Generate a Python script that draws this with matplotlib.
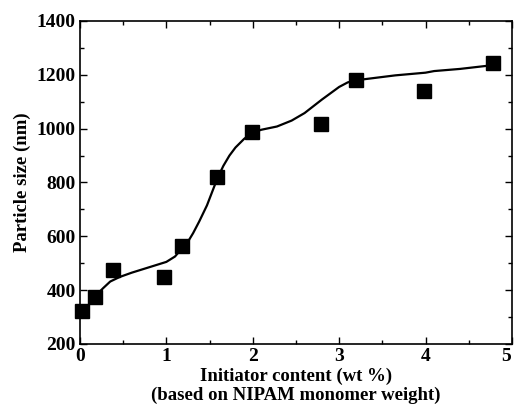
import matplotlib
matplotlib.use("Agg")
import matplotlib.pyplot as plt
import matplotlib.transforms as mtransforms
from matplotlib.ticker import MultipleLocator

# measured points (initiator wt %, particle size nm)
initiator = [0.02, 0.17, 0.38, 0.97, 1.18, 1.59, 1.99, 2.79, 3.19, 3.98, 4.78]
size_nm = [322, 375, 476, 449, 565, 822, 987, 1017, 1181, 1140, 1243]

# smooth guide curve
curve_x = [0.17, 0.22, 0.27, 0.35, 0.46, 0.6, 0.69, 0.85, 1.0, 1.1, 1.18, 1.25, 1.31,
           1.38, 1.47, 1.53, 1.59, 1.66, 1.73, 1.8, 1.9, 1.99, 2.1, 2.28, 2.45, 2.6,
           2.8, 3.0, 3.1, 3.2, 3.4, 3.65, 4.0, 4.1, 4.4, 4.78]
curve_y = [375, 392, 408, 432, 449, 465, 474, 490, 505, 525, 555, 580, 612,
           655, 715, 765, 815, 862, 900, 930, 962, 985, 996, 1008, 1030, 1058,
           1108, 1155, 1172, 1180, 1188, 1198, 1208, 1214, 1222, 1236]

plt.rcParams['font.family'] = ['Liberation Serif', 'DejaVu Serif']
plt.rcParams['font.weight'] = 'bold'

fig = plt.figure(figsize=(5.15, 4.2), dpi=100)
ax = fig.add_axes([0.1553, 0.181, 0.8387, 0.769])

ax.plot(curve_x, curve_y, color='black', linewidth=1.6, zorder=2)
ax.plot(initiator, size_nm, linestyle='none', marker='s', markersize=10,
        color='black', zorder=3, clip_on=False)

ax.set_xlim(0, 5)
ax.set_ylim(200, 1400)
ax.xaxis.set_major_locator(MultipleLocator(1))
ax.xaxis.set_minor_locator(MultipleLocator(0.5))
ax.yaxis.set_major_locator(MultipleLocator(200))
ax.yaxis.set_minor_locator(MultipleLocator(100))
ax.tick_params(which='both', direction='in', top=True, right=True, labelsize=14)
ax.tick_params(which='major', length=5, width=1, pad=3)
ax.tick_params(which='minor', length=3, width=1)
for s in ax.spines.values():
    s.set_linewidth(1.2)

for lab in ax.get_xticklabels() + ax.get_yticklabels():
    lab.set_fontweight('bold')

ax.set_xlabel("Initiator content (wt %)\n(based on NIPAM monomer weight)",
              fontsize=13.5, fontweight='bold', labelpad=2, linespacing=1.1)
ax.set_ylabel("Particle size (nm)", fontsize=13.5, fontweight='bold', labelpad=4)

# last x label sits right at the figure edge, nudge it in a bit
fig.canvas.draw()
last = ax.xaxis.get_major_ticks()[-1].label1
if last.get_text() != "5":
    last = [t.label1 for t in ax.xaxis.get_major_ticks() if t.label1.get_text() == "5"][0]
last.set_transform(last.get_transform() +
                   mtransforms.ScaledTranslation(-4 / 72, 0, fig.dpi_scale_trans))

fig.savefig("out.png", dpi=100)
